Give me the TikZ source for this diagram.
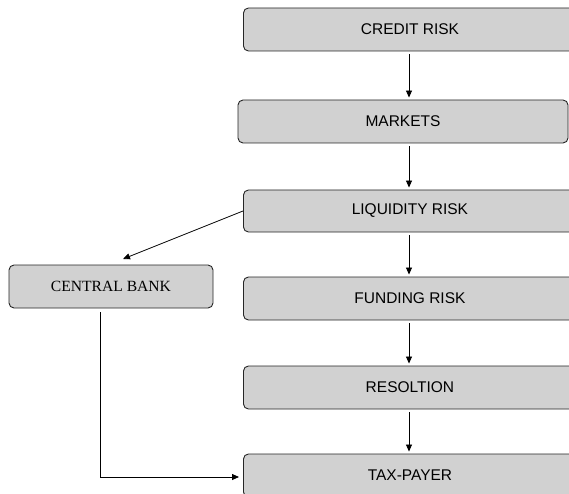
\documentclass[tikz,border=0pt]{standalone}
\usepackage{fontspec}
\setmainfont{Liberation Serif}
\setsansfont{Liberation Sans}
\usetikzlibrary{arrows.meta}
\newcommand{\widetext}[1]{\makebox[333pt]{#1}\hspace*{30pt}}
\begin{document}
\begin{tikzpicture}[x=1pt,y=1pt,
  box/.style={draw=black!85, line width=0.9pt, fill=black!18, rounded corners=5pt,
    minimum height=43pt, inner sep=0pt, font=\sffamily\fontsize{15.5}{17}\selectfont},
  wide/.style={box, anchor=west},
  conn/.style={draw=black, line width=0.8pt, -{Triangle[length=7pt,width=6pt]}}]
\useasboundingbox (0,0) rectangle (569,493);
\node[wide] (credit) at (243,463.5) {\widetext{CREDIT RISK}};
\node[box, minimum width=330pt] (markets) at (403,371.5) {MARKETS};
\node[wide, minimum height=42pt] (liq) at (243,282) {\widetext{LIQUIDITY RISK}};
\node[box, minimum width=204pt, font=\rmfamily\fontsize{15.6}{17}\selectfont] (cb) at (111,206.5) {CENTRAL BANK};
\node[wide] (fund) at (243,194.5) {\widetext{FUNDING RISK}};
\node[wide] (res) at (243,105.5) {\widetext{RESOLTION}};
\node[wide] (tax) at (243,17.5) {\widetext{TAX-PAYER}};
\coordinate (ax) at (409,0);
\coordinate (cbin) at (123,234);
\coordinate (cbout) at (100,181);
\coordinate (corner) at (100,16);
\draw[conn, shorten <=3pt, shorten >=2pt] (ax |- credit.south) -- (ax |- markets.north);
\draw[conn, shorten <=3pt, shorten >=2pt] (ax |- markets.south) -- (ax |- liq.north);
\draw[conn, shorten <=3pt, shorten >=2pt] (ax |- liq.south) -- (ax |- fund.north);
\draw[conn, shorten <=3pt, shorten >=2pt] (ax |- fund.south) -- (ax |- res.north);
\draw[conn, shorten <=3pt, shorten >=2pt] (ax |- res.south) -- (ax |- tax.north);
\draw[conn] (liq.west) -- (cbin);
\draw[conn, shorten >=4pt] (cbout) -- (corner) -- (corner -| tax.west);
\end{tikzpicture}
\end{document}
